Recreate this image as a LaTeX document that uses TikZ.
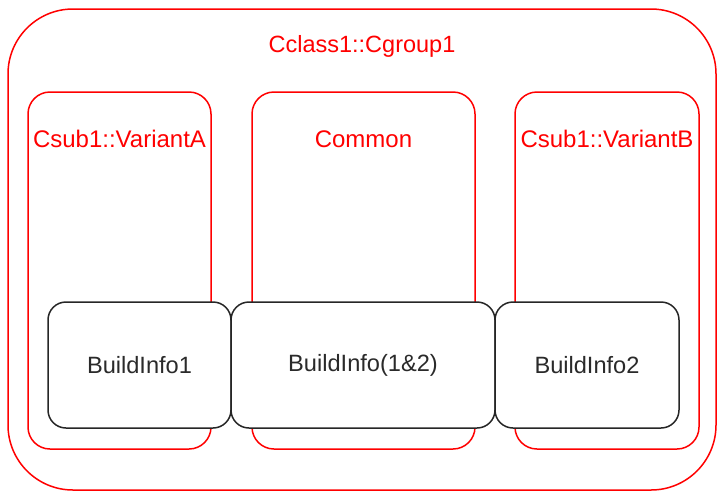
\documentclass[tikz,border=0pt]{standalone}
\usepackage{fontspec}
\setmainfont{Liberation Sans}
\definecolor{grpred}{HTML}{FF0000}
\definecolor{boxtext}{HTML}{2A2A2A}
\tikzset{
  grp/.style={draw=grpred, line width=1.5pt, rounded corners=22pt, inner sep=0pt},
  grplabel/.style={text=grpred, font=\fontsize{24}{28}\selectfont, inner sep=0pt},
  infobox/.style={draw=black!85, fill=white, line width=1.5pt, rounded corners=18pt,
    inner sep=0pt, text=boxtext, font=\fontsize{23.6}{28}\selectfont},
}
\begin{document}
\begin{tikzpicture}[x=1pt,y=-1pt]
  \useasboundingbox (0,0) rectangle (717,491);
  % outer group
  \node[grp, rounded corners=65pt, minimum width=708pt, minimum height=481pt] (outer) at (362,249.5) {};
  \node[grplabel, font=\fontsize{23.5}{28}\selectfont] (outerlbl) at (362,46) {Cclass1::Cgroup1};
  % sub groups
  \node[grp, minimum width=183pt, minimum height=357pt] (va) at (119.5,270.5) {};
  \node[grp, minimum width=223pt, minimum height=357pt] (cm) at (363.5,270.5) {};
  \node[grp, minimum width=184pt, minimum height=357pt] (vb) at (607,270.5) {};
  \node[grplabel] (valbl) at (119.5,139) {Csub1::VariantA};
  \node[grplabel] (cmlbl) at (363.5,139) {Common};
  \node[grplabel] (vblbl) at (607,139) {Csub1::VariantB};
  % build info boxes
  \node[infobox, minimum width=183pt, minimum height=126pt] (bi1) at (139.5,365) {BuildInfo1};
  \node[infobox, minimum width=264pt, minimum height=126pt] (bi12) at (363,365) {BuildInfo(1\&2)};
  \node[infobox, minimum width=184pt, minimum height=126pt] (bi2) at (587,365) {BuildInfo2};
\end{tikzpicture}
\end{document}
